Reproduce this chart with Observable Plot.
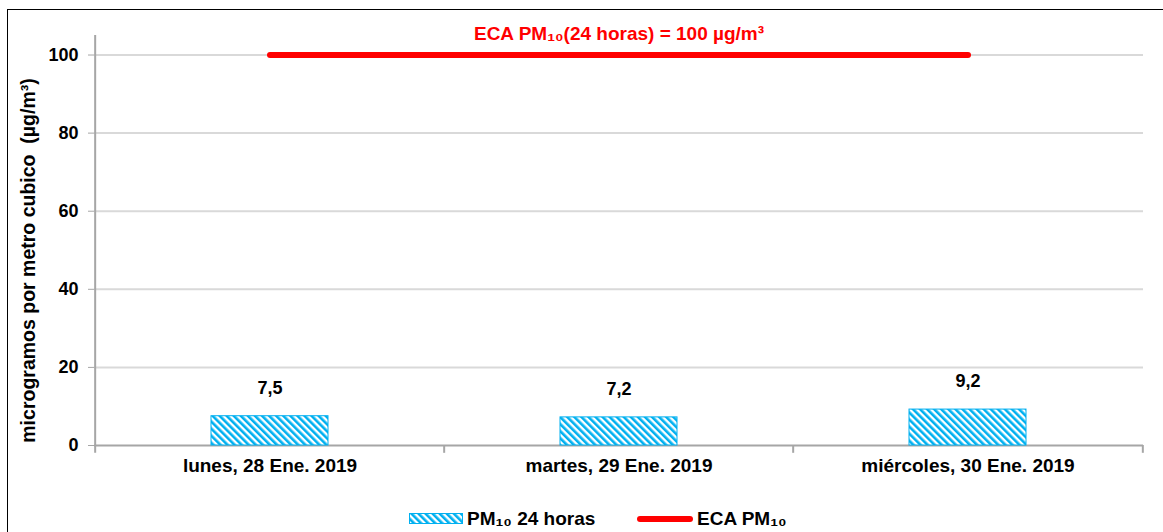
<!DOCTYPE html>
<html>
<head>
<meta charset="utf-8">
<script src="https://cdn.jsdelivr.net/npm/d3@7"></script>
<script src="https://cdn.jsdelivr.net/npm/@observablehq/plot@0.6"></script>
<style>
  body { margin: 0; background: #fff; font-family: "Liberation Sans", Arial, sans-serif; }
  #wrap { position: relative; width: 1163px; height: 532px; overflow: hidden; }
  #border { position: absolute; left: 7px; top: 9px; width: 1300px; height: 700px;
            border-left: 1.5px solid #000; border-top: 1.5px solid #000; box-sizing: border-box; }
  #chart { position: absolute; left: 0; top: 0; }
  .leg { position: absolute; font-weight: bold; font-size: 19px; color: #000; line-height: 20px; }
</style>
</head>
<body>
<div id="wrap">
  <div id="border"></div>
  <div id="chart"></div>
  <svg class="leg" style="left:409px;top:513px" width="54" height="11">
    <rect x="0.5" y="0.5" width="53" height="10" fill="url(#stripesLeg)" stroke="#00B0F0"/>
  </svg>
  <div class="leg" style="left:467px;top:509px">PM₁₀ 24 horas</div>
  <div class="leg" style="left:637px;top:516px;width:56px;height:6px;background:#FF0000;border-radius:3px"></div>
  <div class="leg" style="left:697px;top:509px">ECA PM₁₀</div>
</div>
<script>
const days = ["lunes, 28 Ene. 2019", "martes, 29 Ene. 2019", "miércoles, 30 Ene. 2019"];
const pm10 = [7.5, 7.2, 9.2];
const ecaLimit = 100;
const yTicks = [0, 20, 40, 60, 80, 100];
const yLabel = "microgramos por metro cubico  (µg/m³)";
const ecaLabel = "ECA PM₁₀(24 horas) = 100 µg/m³";

const W = 1163, H = 532, mL = 94, mR = 20, mT = 35, mB = 87;
const step = (W - mL - mR) / days.length;

const bars = days.map((d, i) => ({day: d, value: pm10[i]}));
const eca = days.map(d => ({day: d, value: ecaLimit}));

const axisGray = "#a6a6a6";

const plot = Plot.plot({
  width: W, height: H,
  marginLeft: mL, marginRight: mR, marginTop: mT, marginBottom: mB,
  style: {fontFamily: "Liberation Sans, Arial, sans-serif", fontSize: "18px", fontWeight: "bold", background: "transparent"},
  x: {domain: days, padding: 0},
  y: {domain: [0, 105]},
  marks: [
    Plot.ruleY(yTicks.filter(t => t > 0), {stroke: "#d9d9d9", strokeWidth: 2}),
    Plot.ruleY([0], {stroke: axisGray, strokeWidth: 2}),
    Plot.ruleX([days[0]], {y1: -2, y2: 105, dx: -step / 2, stroke: axisGray, strokeWidth: 2}),
    Plot.ruleX(days.slice(1), {y1: -2, y2: 0, dx: -step / 2, stroke: axisGray, strokeWidth: 2}),
    Plot.ruleX([days[days.length - 1]], {y1: -2, y2: 0, dx: step / 2, stroke: axisGray, strokeWidth: 2}),
    Plot.axisY({ticks: yTicks, tickSize: 6, tickPadding: 10, stroke: axisGray, fill: "black", label: null, fontSize: 18}),
    Plot.axisX({tickSize: 0, tickPadding: 13, fill: "black", label: null, fontSize: 19}),
    Plot.barY(bars, {x: "day", y: "value", fill: "url(#stripes)", stroke: "#00B0F0", strokeWidth: 1,
                     insetLeft: 116, insetRight: 116}),
    Plot.text(bars, {x: "day", y: "value", text: d => d.value.toFixed(1).replace(".", ","),
                     dy: -28, fill: "black", fontSize: 18, fontWeight: "bold"}),
    Plot.lineY(eca, {x: "day", y: "value", stroke: "#FF0000", strokeWidth: 6, strokeLinecap: "round"}),
    Plot.text([ecaLabel], {x: () => days[1], y: () => ecaLimit, text: d => d, dy: -21,
                     fill: "#FF0000", fontSize: 19, fontWeight: "bold"}),
    Plot.text([yLabel], {frameAnchor: "left", textAnchor: "middle", dx: -66, dy: 20, rotate: -90, text: d => d,
                     fill: "black", fontSize: 19.5, fontWeight: "bold"})
  ]
});

function addPattern(svgSel, id) {
  const defs = svgSel.insert("defs", ":first-child");
  const p = defs.append("pattern").attr("id", id).attr("patternUnits", "userSpaceOnUse")
    .attr("width", 5).attr("height", 5).attr("patternTransform", "rotate(-45)");
  p.append("rect").attr("width", 5).attr("height", 5).attr("fill", "#ffffff");
  p.append("rect").attr("width", 2.6).attr("height", 5).attr("fill", "#00B0F0");
}
addPattern(d3.select(plot), "stripes");
addPattern(d3.select(document.querySelector("svg.leg")), "stripesLeg");
document.getElementById("chart").appendChild(plot);
</script>
</body>
</html>
